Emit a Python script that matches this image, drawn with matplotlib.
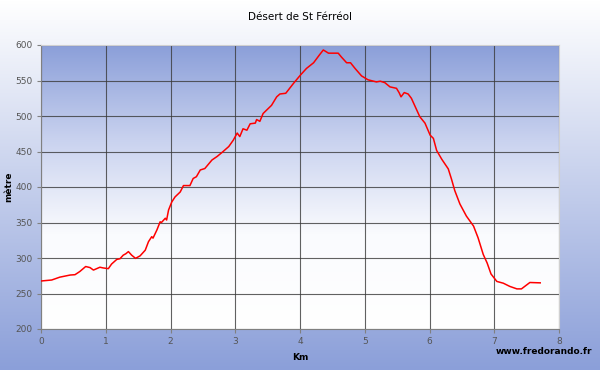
import numpy as np
import matplotlib
matplotlib.use("Agg")
import matplotlib.pyplot as plt
from matplotlib.colors import LinearSegmentedColormap

# profile (km, metres)
km = [0, 0.165, 0.29, 0.45, 0.525, 0.60, 0.69, 0.757, 0.81, 0.91, 0.96, 1.04,
      1.09, 1.17, 1.22, 1.27, 1.31, 1.35, 1.40, 1.46, 1.53, 1.61, 1.66, 1.71,
      1.73, 1.79, 1.84, 1.86, 1.92, 1.94, 1.97, 2.02, 2.07, 2.15, 2.20, 2.30,
      2.35, 2.40, 2.46, 2.53, 2.64, 2.72, 2.80, 2.90, 2.97, 3.03, 3.07, 3.12,
      3.18, 3.23, 3.31, 3.33, 3.38, 3.43, 3.56, 3.64, 3.69, 3.78, 3.90, 4.01,
      4.10, 4.21, 4.30, 4.36, 4.44, 4.59, 4.64, 4.72, 4.78, 4.85, 4.95, 5.05,
      5.18, 5.24, 5.31, 5.39, 5.49, 5.53, 5.56, 5.61, 5.67, 5.72, 5.78, 5.85,
      5.93, 6.01, 6.06, 6.11, 6.19, 6.29, 6.34, 6.39, 6.47, 6.57, 6.68, 6.75,
      6.83, 6.89, 6.95, 7.04, 7.14, 7.24, 7.35, 7.42, 7.55, 7.71]
alt = [267.6, 269, 273, 276, 276.5, 281, 288, 286.5, 283, 287, 286, 285,
       291.5, 298, 299, 304, 306, 309, 304, 299.5, 303, 311, 323, 330,
       328, 339.5, 351, 350, 356, 353.5, 367.6, 379, 386, 393, 402, 402,
       412, 414.5, 424, 426, 438, 443, 449, 457, 466, 476, 471, 482,
       480, 489, 490, 495, 492.5, 503.5, 515, 527, 531, 532, 546, 558,
       567, 575, 586, 593, 588.5, 588.5, 583, 575, 575, 567, 556.5, 551,
       548, 549, 547, 541, 539, 533, 527, 533, 531, 525, 513, 499,
       490, 473, 468.5, 451.5, 439, 425.5, 411, 395, 376, 359, 345, 328.5,
       305, 293, 277.5, 267, 264.5, 260, 256.5, 256.5, 265.5, 265]

xticks = list(range(0, 9))
yticks = list(range(200, 601, 50))

blue = "#8b9fd9"
fig = plt.figure(figsize=(6, 3.7), dpi=100)

# figure background: white at top, blue at bottom
bg = fig.add_axes([0, 0, 1, 1], zorder=-10)
grad = np.linspace(0, 1, 256).reshape(-1, 1)
bg.imshow(grad, aspect="auto", extent=[0, 1, 0, 1],
          cmap=LinearSegmentedColormap.from_list("fig", ["#ffffff", blue]))
bg.axis("off")

ax = fig.add_axes([41 / 600, 1 - 329 / 370, 518 / 600, 284 / 370])
ax.set_xlim(0, 8)
ax.set_ylim(200, 600)
# plot area: blue at top fading to white
ax.imshow(grad[::-1], aspect="auto", extent=[0, 8, 200, 600], zorder=0,
          cmap=LinearSegmentedColormap.from_list("plot", ["#ffffff", "#fafbfe", "#c9d2ef", blue]))

ax.plot(km, alt, color="#ff0000", lw=1.1, zorder=3)

ax.set_xticks(xticks)
ax.set_yticks(yticks)
ax.grid(True, color="#3a3a3a", lw=0.8, alpha=0.8, zorder=1)
ax.tick_params(labelsize=6.5, labelcolor="#555555", colors="#808080",
               length=3, width=0.8, pad=3)
for s in ["left", "bottom"]:
    ax.spines[s].set_color("#808080")
ax.spines["top"].set_color("#d0d0d0")
ax.spines["right"].set_color("#d0d0d0")

ax.set_xlabel("Km", fontsize=6.5, fontweight="bold", labelpad=5)
ax.set_ylabel("mètre", fontsize=6.5, fontweight="bold")
ax.yaxis.set_label_coords(-28 / 518, 0.5)

fig.text(0.5, 1 - 17 / 370, "Désert de St Férréol", ha="center", va="center",
         fontsize=7.5)
fig.text(592 / 600, 1 - 352 / 370, "www.fredorando.fr", ha="right", va="center",
         fontsize=6.5, fontweight="bold")

fig.savefig("out.png", dpi=100)
